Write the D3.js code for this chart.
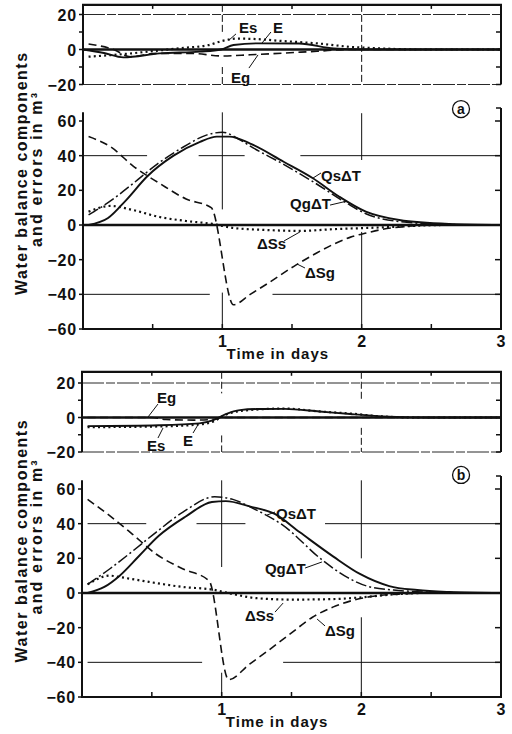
<!DOCTYPE html>
<html>
<head>
<meta charset="utf-8">
<script src="https://cdn.jsdelivr.net/npm/d3@7"></script>
<style>
  body { margin: 0; background: #fff; }
  svg text { font-family: "Liberation Sans", Arial, sans-serif; font-weight: bold; fill: #111; }
</style>
</head>
<body>
<script>
// values: time in days, volumes in m3

// panel (a), error curves
const eDaysA  = [0, 0.15, 0.29, 0.55, 0.84, 0.99, 1.08, 1.25, 1.55, 1.8, 2.0, 3];
const eA      = [0, -2, -4.5, -2.2, -1.2, 0, 2.6, 3.5, 3.4, 0.6, 0, 0];
const esDaysA = [0.04, 0.22, 0.46, 0.7, 0.9, 1.0, 1.1, 1.2, 1.44, 1.68, 1.92, 2.15, 2.4, 3];
const esA     = [-4.1, -3.1, -1.3, 0.8, 2.5, 4.9, 6.2, 6.1, 4.8, 3.5, 1.5, 0.6, 0, 0];
const egDaysA = [0.04, 0.22, 0.34, 0.53, 0.77, 1.0, 1.2, 1.45, 1.68, 1.92, 3];
const egA     = [3.1, 0, -4.1, -2.2, -2.2, -3.7, -3, -2, -1, 0, 0];

// panel (a), water balance components
const qsDaysA  = [0.04, 0.18, 0.31, 0.46, 0.65, 0.84, 0.96, 1.05, 1.2, 1.44, 1.65, 1.84, 2.03, 2.27, 2.63, 3];
const qsA      = [0, 4, 14.4, 28, 40, 48, 51, 51, 47, 36.5, 27, 16.3, 7.7, 2.9, 0.6, 0];
const qgDaysA  = [0.04, 0.2, 0.36, 0.53, 0.72, 0.89, 1.0, 1.13, 1.2, 1.44, 1.65, 1.89, 2.03, 2.27, 2.63, 3];
const qgA      = [5.8, 14, 24, 35, 45, 52, 53.5, 49, 45.5, 35, 25, 12.7, 6.5, 2, 0.3, 0];
const dssDaysA = [0.04, 0.2, 0.36, 0.55, 0.74, 0.93, 1.08, 1.32, 1.56, 1.8, 2.04, 2.2, 2.6, 3];
const dssA     = [7.7, 11, 8.6, 4.6, 2.3, 0.6, -1.7, -2.9, -3.4, -2.4, -1.7, -1.2, 0, 0];
const dsgDaysA = [0.04, 0.2, 0.36, 0.55, 0.74, 0.92, 1.08, 1.2, 1.32, 1.53, 1.68, 1.8, 1.92, 2.04, 2.15, 2.3, 2.5, 3];
const dsgA     = [51, 45, 34, 24, 15, 10, -46, -40, -34, -23, -16, -11, -7, -4.5, -2.5, -1, 0, 0];

// panel (b), error curves
const eDaysB  = [0.04, 0.55, 0.84, 0.94, 1.03, 1.13, 1.25, 1.45, 1.7, 1.92, 2.2, 2.5, 3];
const eB      = [-5, -4.5, -3.4, -1.5, 2, 4.3, 4.9, 5, 3.5, 2, 0.5, 0, 0];
const esDaysB = [0.04, 0.55, 0.84, 0.95, 1.0, 1.08, 1.2, 1.45, 1.7, 1.92, 2.15, 2.4, 3];
const esB     = [-5.6, -5.2, -4, -2, 0.5, 3, 4.3, 5.2, 3.5, 2.3, 0.6, 0, 0];
const egDaysB = [0.04, 0.5, 0.6, 0.8, 0.95, 1.0, 3];
const egB     = [0, 0, -1.2, -1.5, -1, 0, 0];

// panel (b), water balance components
const qsDaysB  = [0.04, 0.16, 0.27, 0.41, 0.55, 0.74, 0.93, 1.03, 1.2, 1.38, 1.56, 1.8, 1.99, 2.2, 2.4, 2.63, 3];
const qsB      = [0, 3.5, 10, 21.5, 33, 44, 52.5, 53, 50, 45.6, 35, 21, 11, 4, 1.7, 0.6, 0];
const qgDaysB  = [0.04, 0.2, 0.36, 0.53, 0.72, 0.95, 1.08, 1.22, 1.44, 1.72, 1.9, 2.04, 2.23, 2.6, 3];
const qgB      = [5, 14, 24, 35, 46.5, 55.5, 54, 49, 39, 19, 9, 4, 1.7, 0.3, 0];
const dssDaysB = [0.04, 0.2, 0.27, 0.48, 0.72, 0.94, 1.08, 1.25, 1.5, 1.8, 2.0, 2.2, 2.45, 3];
const dssB     = [5, 10, 9.2, 6.4, 3.5, 1.9, -0.6, -3, -3.8, -3.5, -2.5, -1, 0, 0];
const dsgDaysB = [0.04, 0.2, 0.36, 0.53, 0.72, 0.91, 1.05, 1.2, 1.32, 1.5, 1.65, 1.8, 1.95, 2.1, 2.3, 2.5, 3];
const dsgB     = [54, 44.5, 34, 22.5, 14, 7, -50, -41, -34, -23, -14, -8, -4, -1.7, -0.5, 0, 0];

// ticks
const eTickLabels = [20, 0, -20];
const eTicks = [20, 10, 0, -10, -20];
const mainTickLabels = [60, 40, 20, 0, -20, -40, -60];
const dayTickLabels = [1, 2, 3];
const dayMinorTicks = [0.5, 1, 1.5, 2, 2.5];

// broken grid lines [value, from, to]
const gridHA = [[40, 0, 0.46], [40, 0.83, 1.16], [40, 1.56, 3], [-40, 0, 0.91], [-40, 1.36, 3]];
const gridVA = [[1, 65, 9], [1, -39, -60], [2, 64.5, 37.5], [2, -4, -60]];
const gridHB = [[40, 0.04, 0.46], [40, 0.82, 1.17], [40, 1.74, 3], [-40, 0.04, 0.86], [-40, 1.44, 3]];
const gridVB = [[1, 65, 15], [1, -46, -60], [2, 65, 20], [2, -14, -60]];
const eGridVA = [[1, 25.5, 10], [1, -10, -20], [2, 25.5, -20]];
const eGridVB = [[1, 26.5, 14], [1, -10.4, -20], [2, 26.5, 10], [2, -6, -20]];

const svg = d3.select("body").append("svg").attr("width", 512).attr("height", 734);

const fmt = v => v < 0 ? "\u2212" + Math.abs(v) : String(v);
const zip = (xs, ys) => xs.map((d, i) => [d, ys[i]]);

const styles = {
  solid:   { w: 1.9, dash: null },
  dotted:  { w: 2.2, dash: "2,3.2" },
  dashed:  { w: 1.6, dash: "8,4.5" },
  dashdot: { w: 1.5, dash: "11,3,2,3" }
};

function drawPanel(p) {
  const x = d3.scaleLinear().domain([0, 3]).range([p.left, p.right]);
  const ye = d3.scaleLinear().domain([-20, 20]).range(p.eRange);
  const ym = d3.scaleLinear().domain([-60, 60]).range(p.mRange);
  const g = svg.append("g");

  const seg = (x1, y1, x2, y2, w, dash) => g.append("line")
    .attr("x1", x1).attr("y1", y1).attr("x2", x2).attr("y2", y2)
    .attr("stroke", "#111").attr("stroke-width", w)
    .attr("stroke-dasharray", dash);

  const curve = (y, pts, st) => g.append("path")
    .attr("d", d3.line().x(d => x(d[0])).y(d => y(d[1])).curve(d3.curveMonotoneX)(pts))
    .attr("fill", "none").attr("stroke", "#111")
    .attr("stroke-width", st.w).attr("stroke-dasharray", st.dash);

  const label = (y, l, size) => {
    seg(x(l.l[0]), y(l.l[1]), x(l.l[2]), y(l.l[3]), 1);
    g.append("text").attr("x", x(l.x)).attr("y", y(l.y))
      .attr("font-size", size).text(l.t);
  };

  // --- error panel ---
  const eTop = p.eTop;
  seg(x(0), ye(20), x(3), ye(20), 0.9, "22,2,9,2");
  seg(x(0), ye(-20), x(3), ye(-20), 0.9, "22,2,9,2");
  p.eGridV.forEach(d => seg(x(d[0]), ye(d[1]), x(d[0]), ye(d[2]), 1, "7,3"));
  seg(x(0) - 1, ye(eTop), x(3) + 1, ye(eTop), 2.2);
  seg(x(0), ye(eTop), x(0), ye(-20), 2);
  seg(x(3), ye(eTop), x(3), ye(-20), 2);
  seg(x(0), ye(0), x(3), ye(0), 2.4);
  eTicks.forEach(v => seg(x(0) - 4, ye(v), x(0), ye(v), 1.5));
  eTicks.slice(1).forEach(v => seg(x(3) - 5, ye(v), x(3), ye(v), 1.5));
  [0.5, 1.5, 2.5].forEach(d => seg(x(d), ye(eTop), x(d), ye(eTop) + 4, 1.5));
  g.selectAll(null).data(eTickLabels).join("text")
    .attr("x", x(0) - 6).attr("y", d => ye(d) + 6)
    .attr("text-anchor", "end").attr("font-size", 16).attr("letter-spacing", 0.8)
    .text(fmt);

  curve(ye, zip(p.egDays, p.eg), styles.dashed);
  curve(ye, zip(p.esDays, p.es), styles.dotted);
  curve(ye, zip(p.eDays, p.e), styles.solid);
  p.eLabels.forEach(l => label(ye, l, 15));

  // --- main panel ---
  p.gridH.forEach(d => seg(x(d[1]), ym(d[0]), x(d[2]), ym(d[0]), 1));
  p.gridV.forEach(d => seg(x(d[0]), ym(d[1]), x(d[0]), ym(d[2]), 1));
  seg(x(0), ym(0), x(3), ym(0), 2.6);
  seg(x(0), ym(65), x(0), ym(-60), 2);
  seg(x(3), ym(67.5), x(3), ym(-60), 2);
  seg(x(3) - 5, ym(67.5), x(3), ym(67.5), 1.5);
  seg(x(0) - 1, ym(-60), x(3) + 1, ym(-60), 2.2);
  mainTickLabels.forEach(v => seg(x(0) - 4, ym(v), x(0), ym(v), 1.5));
  mainTickLabels.slice(0, 6).forEach(v => seg(x(3) - 6, ym(v), x(3), ym(v), 1.5));
  dayMinorTicks.forEach(d => seg(x(d), ym(-60), x(d), ym(-60) - 5, 1.5));

  g.selectAll(null).data(mainTickLabels).join("text")
    .attr("x", x(0) - 6).attr("y", d => ym(d) + 6)
    .attr("text-anchor", "end").attr("font-size", 16).attr("letter-spacing", 0.8)
    .text(fmt);
  g.selectAll(null).data(dayTickLabels).join("text")
    .attr("x", d => x(d)).attr("y", ym(-60) + 18)
    .attr("text-anchor", "middle").attr("font-size", 16)
    .text(d => d);
  g.append("text").attr("x", x(1.03)).attr("y", ym(-60) + 30)
    .attr("font-size", 15).attr("letter-spacing", 1)
    .text("Time  in  days");

  curve(ym, zip(p.dsgDays, p.dsg), styles.dashed);
  curve(ym, zip(p.dssDays, p.dss), styles.dotted);
  curve(ym, zip(p.qgDays, p.qg), styles.dashdot);
  curve(ym, zip(p.qsDays, p.qs), styles.solid);
  p.mLabels.forEach(l => label(ym, l, 15));

  // circled panel letter
  const cx = x(p.tag[0]), cy = ym(p.tag[1]);
  g.append("circle").attr("cx", cx).attr("cy", cy).attr("r", 8.5)
    .attr("fill", "none").attr("stroke", "#111").attr("stroke-width", 1.3);
  g.append("text").attr("x", cx).attr("y", cy + 5).attr("text-anchor", "middle")
    .attr("font-size", 14).text(p.tag[2]);

  // y axis title
  const mid = (ye(eTop) + ym(-60)) / 2 + 7;
  g.append("text").attr("transform", `translate(27,${mid}) rotate(-90)`)
    .attr("text-anchor", "middle").attr("font-size", 16)
    .attr("textLength", 242).attr("lengthAdjust", "spacing")
    .text("Water balance components");
  g.append("text").attr("transform", `translate(42,${mid - 4}) rotate(-90)`)
    .attr("text-anchor", "middle").attr("font-size", 16)
    .attr("textLength", 154).attr("lengthAdjust", "spacing")
    .text("and  errors  in  m\u00b3");
}

drawPanel({
  left: 83, right: 501, eRange: [84.5, 14.5], mRange: [329, 121], eTop: 25.5,
  eDays: eDaysA, e: eA, esDays: esDaysA, es: esA, egDays: egDaysA, eg: egA,
  qsDays: qsDaysA, qs: qsA, qgDays: qgDaysA, qg: qgA,
  dssDays: dssDaysA, dss: dssA, dsgDays: dsgDaysA, dsg: dsgA,
  gridH: gridHA, gridV: gridVA, eGridV: eGridVA,
  eLabels: [
    { t: "Es", x: 1.12, y: 9.4, l: [1.098, 8.9, 1.048, 5.4] },
    { t: "E", x: 1.364, y: 9.4, l: [1.349, 10, 1.285, 3.7] },
    { t: "Eg", x: 1.062, y: -19.1, l: [1.191, -10.6, 1.256, -3.1] }
  ],
  mLabels: [
    { t: "Qs\u0394T", x: 1.708, y: 25.4, l: [1.651, 27.1, 1.708, 30.0] },
    { t: "Qg\u0394T", x: 1.486, y: 9.2, l: [1.773, 11.5, 1.895, 13.8] },
    { t: "\u0394Ss", x: 1.249, y: -13.8, l: [1.443, -9.2, 1.557, -4.0] },
    { t: "\u0394Sg", x: 1.593, y: -30.6, l: [1.593, -24.8, 1.536, -22.5] }
  ],
  tag: [2.713, 66.9, "a"]
});

drawPanel({
  left: 82, right: 501, eRange: [452, 383], mRange: [697, 489], eTop: 26.5,
  eDays: eDaysB, e: eB, esDays: esDaysB, es: esB, egDays: egDaysB, eg: egB,
  qsDays: qsDaysB, qs: qsB, qgDays: qgDaysB, qg: qgB,
  dssDays: dssDaysB, dss: dssB, dsgDays: dsgDaysB, dsg: dsgB,
  gridH: gridHB, gridV: gridVB, eGridV: eGridVB,
  eLabels: [
    { t: "Eg", x: 0.537, y: 8.4, l: [0.473, 0.3, 0.544, 7.8] },
    { t: "Es", x: 0.465, y: -19.4, l: [0.544, -11.9, 0.58, -6.1] },
    { t: "E", x: 0.723, y: -16.5, l: [0.795, -9, 0.83, -4.3] }
  ],
  mLabels: [
    { t: "Qs\u0394T", x: 1.389, y: 42.7, l: [1.325, 45, 1.382, 46.7] },
    { t: "Qg\u0394T", x: 1.31, y: 11, l: [1.597, 14.4, 1.718, 17.9] },
    { t: "\u0394Ss", x: 1.167, y: -16.2, l: [1.382, -11, 1.44, -5.8] },
    { t: "\u0394Sg", x: 1.74, y: -24.8, l: [1.74, -19, 1.683, -15] }
  ],
  tag: [2.714, 68.1, "b"]
});
</script>
</body>
</html>
